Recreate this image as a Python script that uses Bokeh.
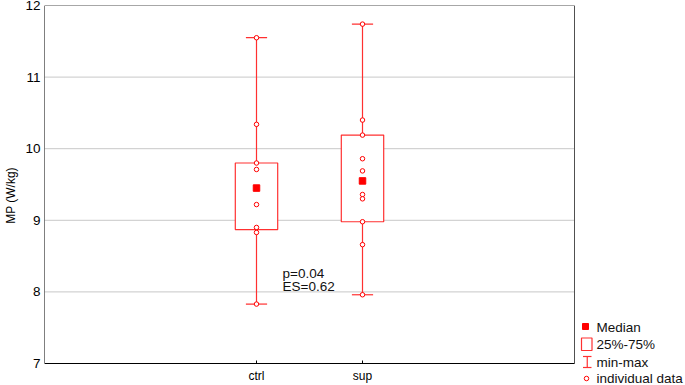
from bokeh.plotting import figure
from bokeh.models import Range1d, FixedTicker
from bokeh.core.properties import value
from bokeh.embed import file_html
from bokeh.resources import INLINE

# ---- data ----
categories = ["ctrl", "sup"]
x_pos = [2, 3]
mins = [7.83, 7.96]
q1 = [8.87, 8.98]
medians = [9.45, 9.55]
q3 = [9.80, 10.19]
maxs = [11.55, 11.74]
ctrl_points = [11.55, 10.34, 9.80, 9.71, 9.22, 8.90, 8.83, 7.83]
sup_points = [11.74, 10.40, 10.19, 9.86, 9.69, 9.36, 9.30, 8.98, 8.66, 7.96]
y_ticks = [7, 8, 9, 10, 11, 12]
grid_vals = [8, 9, 10, 11]
annot_lines = ["p=0.04", "ES=0.62"]
legend_labels = ["Median", "25%-75%", "min-max", "individual data"]

FONT = "Liberation Sans"
RED = "#FF0000"
LRED = "#FF3030"
box_half = 0.2
cap_half = 0.1

# ---- layout (pixels) ----
W, H = 685, 385
BL, BT = 44, 5              # frame left / top offsets
AX_R, AX_B = 574, 363       # right and bottom edge of the drawn axes box
XA, XB, YA, YB = 0, 5, 7, 12  # value extent of the axes box
PXX = (AX_R - BL) / (XB - XA)   # px per x unit
PXY = (AX_B - BT) / (YB - YA)   # px per y unit

def dx(px):
    return XA + (px - BL) / PXX
def dy(py):
    return YB - (py - BT) / PXY

p = figure(width=W, height=H, output_backend="svg", toolbar_location=None,
           x_range=Range1d(XA, dx(W)), y_range=Range1d(dy(H), YB),
           min_border_left=BL, min_border_right=0, min_border_top=BT, min_border_bottom=0,
           x_axis_location=None)
p.background_fill_color = "white"
p.border_fill_color = "white"
p.outline_line_color = None
p.grid.visible = False

# y axis (real axis, ticks & labels)
p.yaxis.ticker = FixedTicker(ticks=y_ticks)
p.yaxis.major_tick_in = 0
p.yaxis.major_tick_out = 0
p.yaxis.minor_tick_line_color = None
p.yaxis.axis_line_color = None
p.yaxis.major_label_standoff = 4
p.yaxis.major_label_text_font_size = "13.5px"
p.yaxis.major_label_text_font = FONT
p.yaxis.major_label_text_color = "black"
p.yaxis.axis_label = "MP (W/kg)"
p.yaxis.axis_label_text_font = FONT
p.yaxis.axis_label_text_font_style = "normal"
p.yaxis.axis_label_text_font_size = "12px"
p.yaxis.axis_label_text_color = "black"
p.yaxis.axis_label_standoff = 4

# grid lines and axes box
p.segment(x0=[XA] * len(grid_vals), y0=grid_vals, x1=[XB] * len(grid_vals), y1=grid_vals,
          line_color="#C8C8C8", line_width=1)
p.segment(x0=[XA, XB], y0=[YB, YA], x1=[XB, XB], y1=[YB, YB], line_color="#505050", line_width=1)
p.segment(x0=[XA, XA], y0=[YA, YA], x1=[XB, XA], y1=[YA, YB], line_color="black", line_width=1)

# x axis ticks and labels
p.segment(x0=x_pos, y0=[YA] * 2, x1=x_pos, y1=[YA + 3 / PXY] * 2, line_color="black", line_width=1)
p.text(x=x_pos, y=[dy(375)] * 2, text=categories, text_font=value(FONT), text_font_size="12px",
       text_color="black", text_align="center", text_baseline="middle")

# whiskers
p.segment(x0=x_pos, y0=mins, x1=x_pos, y1=maxs, line_color=LRED, line_width=1.2)
p.segment(x0=[x - cap_half for x in x_pos], y0=mins, x1=[x + cap_half for x in x_pos], y1=mins,
          line_color=LRED, line_width=1.2)
p.segment(x0=[x - cap_half for x in x_pos], y0=maxs, x1=[x + cap_half for x in x_pos], y1=maxs,
          line_color=LRED, line_width=1.2)
# boxes
p.quad(left=[x - box_half for x in x_pos], right=[x + box_half for x in x_pos],
       bottom=q1, top=q3, fill_color="white", line_color=LRED, line_width=1.2)
# individual data
px = [x_pos[0]] * len(ctrl_points) + [x_pos[1]] * len(sup_points)
py = ctrl_points + sup_points
p.scatter(px, py, marker="circle", size=4.5, fill_color="white", line_color=RED, line_width=1)
# medians
p.scatter(x_pos, medians, marker="square", size=6.5, fill_color=RED, line_color=RED)

# statistics text
p.text(x=[dx(282)] * 2, y=[dy(273), dy(285.5)], text=annot_lines, text_font=value(FONT),
       text_font_size="13.5px", text_color="#111111", text_align="left", text_baseline="alphabetic")

# ---- legend (bottom right, outside the axes box) ----
p.scatter([dx(585)], [dy(326)], marker="square", size=6, fill_color=RED, line_color=RED)
p.quad(left=[dx(581)], right=[dx(591.5)], top=[dy(337.5)], bottom=[dy(350)],
       fill_color=None, line_color=LRED, line_width=1.2)
p.segment(x0=[dx(586.75), dx(582.5), dx(582.5)], y0=[dy(356), dy(356), dy(367)],
          x1=[dx(586.75), dx(591), dx(591)], y1=[dy(367), dy(356), dy(367)],
          line_color=LRED, line_width=1.2)
p.scatter([dx(586)], [dy(378)], marker="circle", size=4.5, fill_color="white", line_color=RED,
          line_width=1)
p.text(x=[dx(596)] * 4, y=[dy(326.5), dy(344), dy(361.5), dy(378)], text=legend_labels,
       text_font=value(FONT), text_font_size="13.5px", text_color="#111111",
       text_align="left", text_baseline="middle")

open("out.html", "w").write(file_html(p, INLINE))
